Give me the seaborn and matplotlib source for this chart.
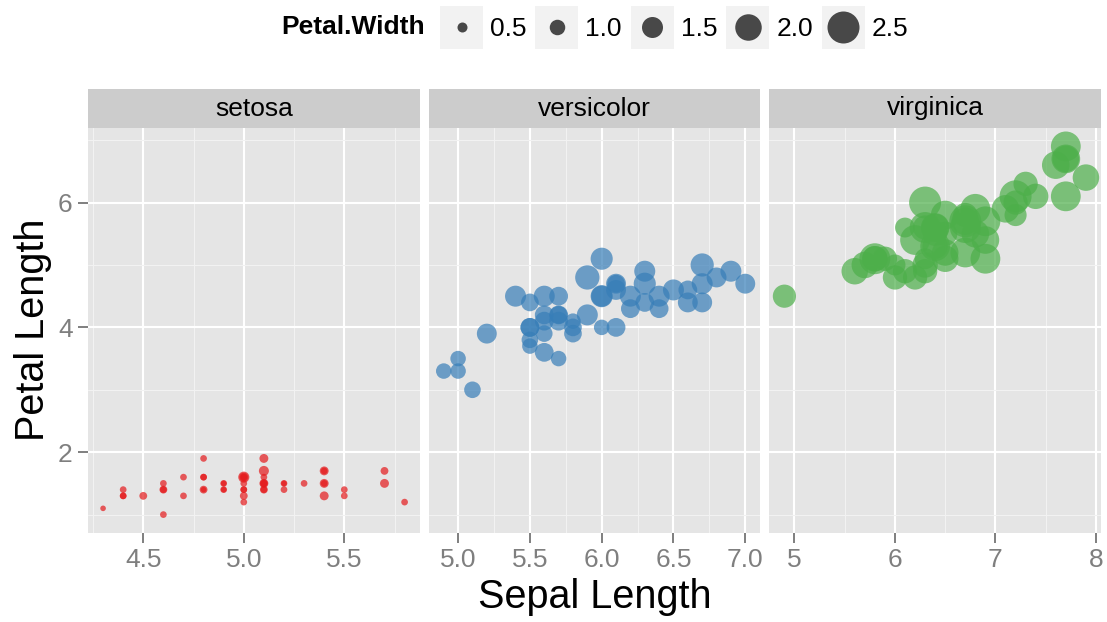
import numpy as np
import pandas as pd
import matplotlib
matplotlib.use("Agg")
import matplotlib.pyplot as plt
import seaborn as sns
from matplotlib.patches import Rectangle
from matplotlib.lines import Line2D
from matplotlib.legend_handler import HandlerLine2D
from matplotlib.ticker import MultipleLocator, FormatStrFormatter

# данные iris: длина чашелистика, длина и ширина лепестка
sepal_length = [
    5.1, 4.9, 4.7, 4.6, 5.0, 5.4, 4.6, 5.0, 4.4, 4.9, 5.4, 4.8, 4.8, 4.3, 5.8, 5.7, 5.4, 5.1, 5.7, 5.1,
    5.4, 5.1, 4.6, 5.1, 4.8, 5.0, 5.0, 5.2, 5.2, 4.7, 4.8, 5.4, 5.2, 5.5, 4.9, 5.0, 5.5, 4.9, 4.4, 5.1,
    5.0, 4.5, 4.4, 5.0, 5.1, 4.8, 5.1, 4.6, 5.3, 5.0,
    7.0, 6.4, 6.9, 5.5, 6.5, 5.7, 6.3, 4.9, 6.6, 5.2, 5.0, 5.9, 6.0, 6.1, 5.6, 6.7, 5.6, 5.8, 6.2, 5.6,
    5.9, 6.1, 6.3, 6.1, 6.4, 6.6, 6.8, 6.7, 6.0, 5.7, 5.5, 5.5, 5.8, 6.0, 5.4, 6.0, 6.7, 6.3, 5.6, 5.5,
    5.5, 6.1, 5.8, 5.0, 5.6, 5.7, 5.7, 6.2, 5.1, 5.7,
    6.3, 5.8, 7.1, 6.3, 6.5, 7.6, 4.9, 7.3, 6.7, 7.2, 6.5, 6.4, 6.8, 5.7, 5.8, 6.4, 6.5, 7.7, 7.7, 6.0,
    6.9, 5.6, 7.7, 6.3, 6.7, 7.2, 6.2, 6.1, 6.4, 7.2, 7.4, 7.9, 6.4, 6.3, 6.1, 7.7, 6.3, 6.4, 6.0, 6.9,
    6.7, 6.9, 5.8, 6.8, 6.7, 6.7, 6.3, 6.5, 6.2, 5.9,
]
petal_length = [
    1.4, 1.4, 1.3, 1.5, 1.4, 1.7, 1.4, 1.5, 1.4, 1.5, 1.5, 1.6, 1.4, 1.1, 1.2, 1.5, 1.3, 1.4, 1.7, 1.5,
    1.7, 1.5, 1.0, 1.7, 1.9, 1.6, 1.6, 1.5, 1.4, 1.6, 1.6, 1.5, 1.5, 1.4, 1.5, 1.2, 1.3, 1.4, 1.3, 1.5,
    1.3, 1.3, 1.3, 1.6, 1.9, 1.4, 1.6, 1.4, 1.5, 1.4,
    4.7, 4.5, 4.9, 4.0, 4.6, 4.5, 4.7, 3.3, 4.6, 3.9, 3.5, 4.2, 4.0, 4.7, 3.6, 4.4, 4.5, 4.1, 4.5, 3.9,
    4.8, 4.0, 4.9, 4.7, 4.3, 4.4, 4.8, 5.0, 4.5, 3.5, 3.8, 3.7, 3.9, 5.1, 4.5, 4.5, 4.7, 4.4, 4.1, 4.0,
    4.4, 4.6, 4.0, 3.3, 4.2, 4.2, 4.2, 4.3, 3.0, 4.1,
    6.0, 5.1, 5.9, 5.6, 5.8, 6.6, 4.5, 6.3, 5.8, 6.1, 5.1, 5.3, 5.5, 5.0, 5.1, 5.3, 5.5, 6.7, 6.9, 5.0,
    5.7, 4.9, 6.7, 4.9, 5.7, 6.0, 4.8, 4.9, 5.6, 5.8, 6.1, 6.4, 5.6, 5.1, 5.6, 6.1, 5.6, 5.5, 4.8, 5.4,
    5.6, 5.1, 5.1, 5.9, 5.7, 5.2, 5.0, 5.2, 5.4, 5.1,
]
petal_width = [
    0.2, 0.2, 0.2, 0.2, 0.2, 0.4, 0.3, 0.2, 0.2, 0.1, 0.2, 0.2, 0.1, 0.1, 0.2, 0.4, 0.4, 0.3, 0.3, 0.3,
    0.2, 0.4, 0.2, 0.5, 0.2, 0.2, 0.4, 0.2, 0.2, 0.2, 0.2, 0.4, 0.1, 0.2, 0.2, 0.2, 0.2, 0.1, 0.2, 0.2,
    0.3, 0.3, 0.2, 0.6, 0.4, 0.3, 0.2, 0.2, 0.2, 0.2,
    1.4, 1.5, 1.5, 1.3, 1.5, 1.3, 1.6, 1.0, 1.3, 1.4, 1.0, 1.5, 1.0, 1.4, 1.3, 1.4, 1.5, 1.0, 1.5, 1.1,
    1.8, 1.3, 1.5, 1.2, 1.3, 1.4, 1.4, 1.7, 1.5, 1.0, 1.1, 1.0, 1.2, 1.6, 1.5, 1.6, 1.5, 1.3, 1.3, 1.3,
    1.2, 1.4, 1.2, 1.0, 1.3, 1.2, 1.3, 1.3, 1.1, 1.3,
    2.5, 1.9, 2.1, 1.8, 2.2, 2.1, 1.7, 1.8, 1.8, 2.5, 2.0, 1.9, 2.1, 2.0, 2.4, 2.3, 1.8, 2.2, 2.3, 1.5,
    2.3, 2.0, 2.0, 1.8, 2.1, 1.8, 1.8, 1.8, 2.1, 1.6, 1.9, 2.0, 2.2, 1.5, 1.4, 2.3, 2.4, 1.8, 1.8, 2.1,
    2.4, 2.3, 1.9, 2.3, 2.5, 2.3, 1.9, 2.0, 2.3, 1.8,
]
species_names = ["setosa", "versicolor", "virginica"]
species = ["setosa"] * 50 + ["versicolor"] * 50 + ["virginica"] * 50
species_colors = ["#E41A1C", "#377EB8", "#4DAF4A"]
legend_values = [0.5, 1.0, 1.5, 2.0, 2.5]
legend_labels = ["0.5", "1.0", "1.5", "2.0", "2.5"]

df = pd.DataFrame({
    "Sepal.Length": sepal_length,
    "Petal.Length": petal_length,
    "Petal.Width": petal_width,
    "Species": species,
})


# диаметр точки растёт линейно с шириной лепестка (пиксели -> пункты)
def diam_pt(w):
    return (4.5 + 11.0 * w) * 0.72


size_map = {w: diam_pt(w) ** 2 for w in sorted(df["Petal.Width"].unique())}


# точка легенды по центру серого квадрата
class CenteredDot(HandlerLine2D):
    def create_artists(self, legend, orig_handle, xdescent, ydescent, width, height,
                       fontsize, trans):
        arts = super().create_artists(legend, orig_handle, xdescent, ydescent, width,
                                      height, fontsize, trans)
        for a in arts:
            a.set_xdata([width / 2 - xdescent] * len(a.get_xdata()))
            a.set_ydata([height / 2 - ydescent] * len(a.get_ydata()))
        return arts


sns.set_style("white")
plt.rcParams["font.family"] = ["Liberation Sans", "DejaVu Sans"]
plt.rcParams["text.color"] = "black"

fig, axes = plt.subplots(1, 3, figsize=(11.07, 6.22), dpi=100, sharey=True)
fig.subplots_adjust(left=88 / 1107, right=1101 / 1107, bottom=1 - 533 / 622,
                    top=1 - 128 / 622, wspace=9 / 332)

x_major = [0.5, 0.5, 1.0]
x_fmt = ["%.1f", "%.1f", "%d"]

for i, (ax, name) in enumerate(zip(axes, species_names)):
    sub = df[df["Species"] == name]
    sns.scatterplot(data=sub, x="Sepal.Length", y="Petal.Length", size="Petal.Width",
                    sizes=size_map, color=species_colors[i], alpha=0.7, linewidth=0,
                    legend=False, ax=ax, zorder=3)
    ax.set_facecolor("#E5E5E5")
    for s in ax.spines.values():
        s.set_visible(False)
    lo, hi = sub["Sepal.Length"].min(), sub["Sepal.Length"].max()
    pad = (hi - lo) * 0.05
    ax.set_xlim(lo - pad, hi + pad)
    ax.xaxis.set_major_locator(MultipleLocator(x_major[i]))
    ax.xaxis.set_minor_locator(MultipleLocator(x_major[i] / 2))
    ax.xaxis.set_major_formatter(FormatStrFormatter(x_fmt[i]))
    ax.yaxis.set_major_locator(MultipleLocator(2))
    ax.yaxis.set_minor_locator(MultipleLocator(1))
    ax.yaxis.set_major_formatter(FormatStrFormatter("%d"))
    ax.grid(which="major", color="white", linewidth=1.5)
    ax.grid(which="minor", color="#F2F2F2", linewidth=0.8)
    ax.set_axisbelow(True)
    ax.tick_params(which="major", bottom=True, left=True, length=7, width=1.4,
                   color="#7F7F7F", labelcolor="#7F7F7F", labelsize=19, pad=4)
    ax.tick_params(which="minor", length=0)
    ax.set_xlabel("")
    ax.set_ylabel("")
    if i > 0:
        ax.tick_params(axis="y", which="both", left=False, labelleft=False)
    # полоска с названием вида
    ax.add_patch(Rectangle((0, 1), 1, 39 / 405, transform=ax.transAxes,
                           facecolor="#CCCCCC", edgecolor="none", clip_on=False))
    ax.text(0.5, 1 + 19.5 / 405, name, transform=ax.transAxes, ha="center",
            va="center", fontsize=19, color="black")

y_lo, y_hi = min(petal_length), max(petal_length)
y_pad = (y_hi - y_lo) * 0.05
axes[0].set_ylim(y_lo - y_pad, y_hi + y_pad)

fig.text(594.5 / 1107, 1 - 597 / 622, "Sepal Length", ha="center", va="center",
         fontsize=28.5, color="black")
fig.text(33 / 1107, 1 - 330 / 622, "Petal Length", ha="center", va="center",
         rotation=90, fontsize=28.5, color="black")

# легенда размеров
handles = []
for v in legend_values:
    bg = Rectangle((0, 0), 1, 1, facecolor="#F2F2F2", edgecolor="none")
    dot = Line2D([], [], marker="o", linestyle="", markersize=diam_pt(v),
                 markerfacecolor="black", markeredgewidth=0, alpha=0.7)
    handles.append((bg, dot))
leg = fig.legend(handles, legend_labels, loc="center left",
                 bbox_to_anchor=(440 / 1107, 1 - 27.5 / 622), ncol=5, frameon=False,
                 fontsize=19, handlelength=1.63, handleheight=2.13, handletextpad=0.27,
                 columnspacing=0.33, borderaxespad=0, borderpad=0,
                 handler_map={Line2D: CenteredDot(numpoints=1)})
for t in leg.get_texts():
    t.set_color("black")
fig.text(425 / 1107, 1 - 27.5 / 622, "Petal.Width", ha="right", va="center",
         fontsize=19, fontweight="bold", color="black")

fig.savefig("out.png", dpi=100)
